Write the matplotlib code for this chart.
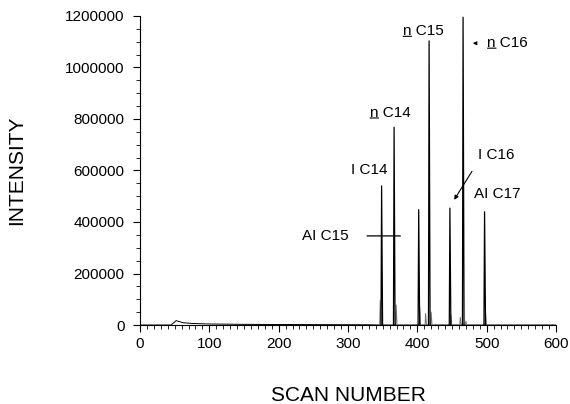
import matplotlib

matplotlib.use("Agg")

import matplotlib.pyplot as plt
from matplotlib.ticker import MultipleLocator

plt.rcParams["font.family"] = ["Liberation Sans", "DejaVu Sans"]

# main peaks: apex scan number and intensity
peak_scan = [348.5, 366.5, 402.0, 417.0, 447.0, 466.0, 497.0]
peak_height = [540000, 768000, 448000, 1103000, 454000, 1195000, 440000]

# small shoulder / satellite peaks next to the main ones
shoulder_scan = [346.5, 369.5, 403.5, 412.0, 420.0, 448.5, 462.0, 470.0, 498.5]
shoulder_height = [95000, 78000, 70000, 45000, 50000, 40000, 30000, 15000, 45000]

# low baseline drift (early bump then flat)
base_scan = [0, 45, 50, 52, 56, 62, 75, 100, 150, 200, 260, 330, 345, 600]
base_height = [0, 0, 12000, 17000, 14000, 9000, 6000, 4000, 2500, 2000, 1500, 1000, 0, 0]

# plain labels: centred at (scan, intensity)
label_text = ["I C14", "I C16", "AI C17", "AI C15"]
label_scan = [330, 514, 516, 268]
label_y = [600000, 662000, 507000, 344000]

# normal-alkane labels with underlined "n": left edge and baseline
nlabel_text = ["n C14", "n C15", "n C16"]
nlabel_scan = [331.7, 379.5, 501.2]
nlabel_y = [809000, 1126000, 1080000]

fig = plt.figure(figsize=(5.70, 4.04), dpi=100)
ax = fig.add_axes([0.2456, 0.1955, 0.7298, 0.7650])

ax.plot(base_scan, base_height, color="black", linewidth=0.7)
for s, h in zip(shoulder_scan, shoulder_height):
    ax.plot([s - 0.8, s, s + 1.2], [0, h, 0], color="0.45", linewidth=0.7)
for s, h in zip(peak_scan, peak_height):
    ax.plot([s - 0.9, s, s + 1.4], [0, h, 0], color="black", linewidth=0.9)

for t, x, y in zip(label_text, label_scan, label_y):
    ax.text(x, y, t, fontsize=11, ha="center", va="center")
for t, x, y in zip(nlabel_text, nlabel_scan, nlabel_y):
    txt = ax.text(x, y, t, fontsize=11, ha="left", va="baseline")
    # underline the leading "n" (fractions of the text's own box)
    ax.annotate("", xy=(0.21, 0.12), xycoords=txt, xytext=(0.0, 0.12), textcoords=txt,
                arrowprops=dict(arrowstyle="-", color="black", lw=0.8,
                                shrinkA=0, shrinkB=0))

# pointers
ax.annotate("", xy=(476, 1094000), xytext=(488, 1094000),
            arrowprops=dict(arrowstyle="-|>", color="black", lw=0.8, mutation_scale=5))
ax.annotate("", xy=(451, 477000), xytext=(481, 606000),
            arrowprops=dict(arrowstyle="-|>", color="black", lw=0.8, mutation_scale=6))
ax.annotate("", xy=(379.5, 346000), xytext=(323.5, 346000),
            arrowprops=dict(arrowstyle="-", color="black", lw=0.9))

ax.set_xlim(0, 600)
ax.set_ylim(0, 1200000)
ax.xaxis.set_major_locator(MultipleLocator(100))
ax.xaxis.set_minor_locator(MultipleLocator(10))
ax.yaxis.set_major_locator(MultipleLocator(200000))
ax.yaxis.set_minor_locator(MultipleLocator(50000))
ax.tick_params(axis="both", which="major", labelsize=11, length=5, width=0.8)
ax.tick_params(axis="y", which="major", pad=6)
ax.tick_params(axis="both", which="minor", length=3, width=0.6)
ax.ticklabel_format(style="plain", axis="y")
for side in ("top", "right"):
    ax.spines[side].set_visible(False)

ax.set_xlabel("SCAN NUMBER", fontsize=15, labelpad=25)
ax.set_ylabel("INTENSITY", fontsize=15, labelpad=28)

fig.savefig("out.png", dpi=100)
